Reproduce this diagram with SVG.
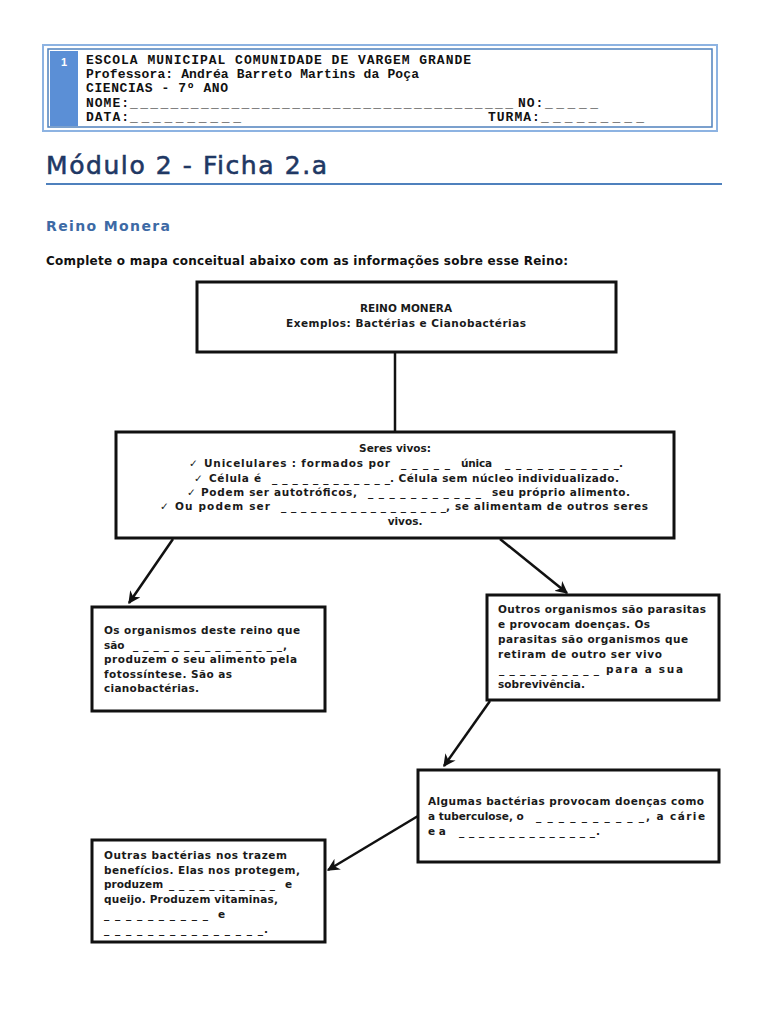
<svg xmlns="http://www.w3.org/2000/svg" width="768" height="1024" viewBox="0 0 768 1024">
<style>
.hd{font-family:"Liberation Mono",monospace;font-weight:bold;font-size:13px;fill:#111;letter-spacing:1px}
.t{font-family:"DejaVu Sans","Liberation Sans",sans-serif;font-size:10.5px;font-weight:bold;fill:#1a1a1a}
.box{fill:#fff;stroke:#111;stroke-width:3}
.con{stroke:#111;stroke-width:2.5;fill:none}
</style>
<defs>
<marker id="ah" viewBox="0 0 10 10" refX="9" refY="5" markerWidth="5" markerHeight="5" orient="auto" markerUnits="strokeWidth">
<path d="M0,0 L10,5 L0,10 L3,5 z" fill="#111"/>
</marker>
</defs>
<rect width="768" height="1024" fill="#fff"/>
<g id="header">
<rect x="43" y="45" width="674" height="86" fill="none" stroke="#8db3e2" stroke-width="2"/>
<rect x="48" y="49" width="664" height="78" fill="none" stroke="#4f81bd" stroke-width="1.5"/>
<rect x="50" y="51" width="28" height="75" fill="#5b8fd6"/>
<text x="64" y="66" text-anchor="middle" font-family="Liberation Sans,sans-serif" font-weight="bold" font-size="11" fill="#fff">1</text>
<text class="hd" x="86" y="64" textLength="386">ESCOLA MUNICIPAL COMUNIDADE DE VARGEM GRANDE</text>
<text class="hd" x="86" y="78" textLength="334">Professora: Andréa Barreto Martins da Poça</text>
<text class="hd" x="86" y="92" textLength="143">CIENCIAS - 7º ANO</text>
<text class="hd" x="86" y="107">NOME:</text>
<text class="hd" x="130" y="107" textLength="384">______________________________________</text>
<text class="hd" x="518" y="107">NO:</text>
<text class="hd" x="545" y="107" textLength="54">_____</text>
<text class="hd" x="86" y="121">DATA:</text>
<text class="hd" x="130" y="121" textLength="112">__________</text>
<text class="hd" x="488" y="121">TURMA:</text>
<text class="hd" x="541" y="121" textLength="104">_________</text>
</g>
<g id="title">
<text x="46" y="174" font-family="DejaVu Sans,sans-serif" font-size="25" fill="#1f3864" stroke="#1f3864" stroke-width="0.6" textLength="281">Módulo 2 - Ficha 2.a</text>
<line x1="46" y1="184" x2="722" y2="184" stroke="#4f81bd" stroke-width="2"/>
<text x="46" y="231" font-family="DejaVu Sans,sans-serif" font-size="14" font-weight="bold" fill="#3d6aa5" textLength="124">Reino Monera</text>
<text x="46" y="265" font-family="DejaVu Sans,sans-serif" font-size="12" font-weight="bold" fill="#111" textLength="522">Complete o mapa conceitual abaixo com as informações sobre esse Reino:</text>
</g>
<g id="connectors">
<line class="con" x1="395" y1="352" x2="395" y2="432"/>
<line class="con" x1="173" y1="539" x2="129" y2="603" marker-end="url(#ah)"/>
<line class="con" x1="500" y1="539" x2="567" y2="593" marker-end="url(#ah)"/>
<line class="con" x1="490" y1="701" x2="444" y2="766" marker-end="url(#ah)"/>
<line class="con" x1="418" y1="816" x2="328" y2="870" marker-end="url(#ah)"/>
</g>
<g id="n1">
<rect class="box" x="197" y="282" width="419" height="70"/>
<text class="t" x="406" y="312" text-anchor="middle">REINO MONERA</text>
<text class="t" x="406" y="327" text-anchor="middle" textLength="240">Exemplos: Bactérias e Cianobactérias</text>
</g>
<g id="n2">
<rect class="box" x="116" y="432" width="558" height="106"/>
<text class="t" x="395" y="452" text-anchor="middle">Seres vivos:</text>
<text class="t" x="189" y="467">✓</text>
<text class="t" x="204" y="467" textLength="186">Unicelulares : formados por</text>
<text class="t" x="401" y="467" textLength="49">_____</text>
<text class="t" x="461" y="467" textLength="31">única</text>
<text class="t" x="505" y="467" textLength="114">___________</text>
<text class="t" x="619" y="467">.</text>
<text class="t" x="194" y="482">✓</text>
<text class="t" x="209" y="482" textLength="52">Célula é</text>
<text class="t" x="272" y="482" textLength="118">____________</text>
<text class="t" x="390" y="482" textLength="229">. Célula sem núcleo individualizado.</text>
<text class="t" x="187" y="496">✓</text>
<text class="t" x="201" y="496" textLength="156">Podem ser autotróficos,</text>
<text class="t" x="368" y="496" textLength="113">___________</text>
<text class="t" x="492" y="496" textLength="138">seu próprio alimento.</text>
<text class="t" x="160" y="510">✓</text>
<text class="t" x="175" y="510" textLength="95">Ou podem ser</text>
<text class="t" x="281" y="510" textLength="165">_________________</text>
<text class="t" x="446" y="510" textLength="202">, se alimentam de outros seres</text>
<text class="t" x="405" y="525" text-anchor="middle">vivos.</text>
</g>
<g id="n3">
<rect class="box" x="92" y="607" width="233" height="104"/>
<text class="t" x="104" y="634" textLength="196">Os organismos deste reino que</text>
<text class="t" x="104" y="649">são</text>
<text class="t" x="133" y="649" textLength="149">_______________</text>
<text class="t" x="283" y="649">,</text>
<text class="t" x="104" y="663" textLength="193">produzem o seu alimento pela</text>
<text class="t" x="104" y="678" textLength="128">fotossíntese. São as</text>
<text class="t" x="104" y="692" textLength="95">cianobactérias.</text>
</g>
<g id="n4">
<rect class="box" x="487" y="595" width="232" height="105"/>
<text class="t" x="498" y="613" textLength="208">Outros organismos são parasitas</text>
<text class="t" x="498" y="628" textLength="152">e provocam doenças. Os</text>
<text class="t" x="498" y="643" textLength="190">parasitas são organismos que</text>
<text class="t" x="498" y="658" textLength="164">retiram de outro ser vivo</text>
<text class="t" x="499" y="673" textLength="100">__________</text>
<text class="t" x="606" y="673" textLength="77">para a sua</text>
<text class="t" x="498" y="688" textLength="87">sobrevivência.</text>
</g>
<g id="n5">
<rect class="box" x="418" y="770" width="301" height="92"/>
<text class="t" x="428" y="805" textLength="276">Algumas bactérias provocam doenças como</text>
<text class="t" x="428" y="820">a tuberculose, o</text>
<text class="t" x="536" y="820" textLength="108">__________</text>
<text class="t" x="646" y="820" textLength="59">, a cárie</text>
<text class="t" x="428" y="835">e a</text>
<text class="t" x="459" y="835" textLength="136">______________</text>
<text class="t" x="596" y="835">.</text>
</g>
<g id="n6">
<rect class="box" x="92" y="840" width="233" height="102"/>
<text class="t" x="104" y="859" textLength="183">Outras bactérias nos trazem</text>
<text class="t" x="104" y="874" textLength="196">benefícios. Elas nos protegem,</text>
<text class="t" x="104" y="888">produzem</text>
<text class="t" x="169" y="888" textLength="106">___________</text>
<text class="t" x="285" y="888">e</text>
<text class="t" x="104" y="903" textLength="174">queijo. Produzem vitaminas,</text>
<text class="t" x="104" y="918" textLength="104">__________</text>
<text class="t" x="218" y="918">e</text>
<text class="t" x="104" y="933" textLength="159">_______________</text>
<text class="t" x="264" y="933">.</text>
</g>
</svg>
